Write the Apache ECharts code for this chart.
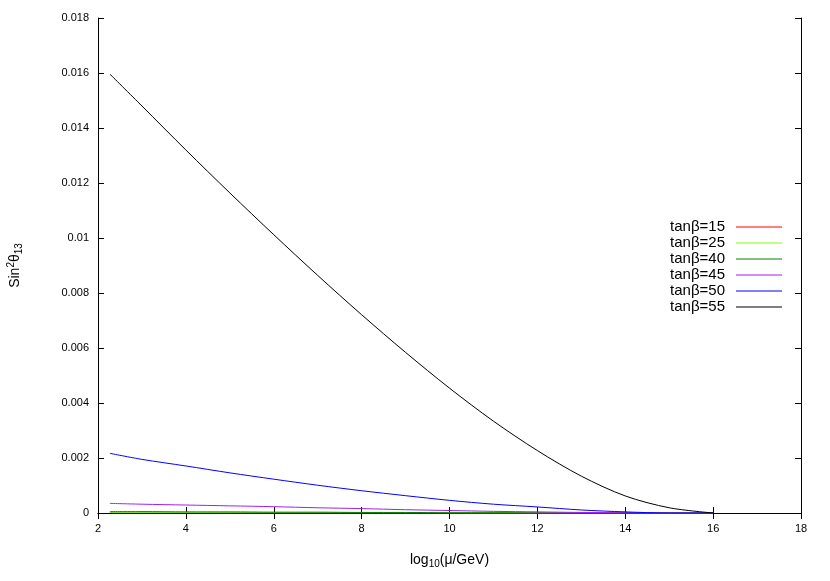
<!DOCTYPE html>
<html>
<head>
<meta charset="utf-8">
<script src="https://cdn.jsdelivr.net/npm/echarts@6/dist/echarts.min.js"></script>
<style>
  html, body { margin: 0; padding: 0; background: #fff; }
  #chart { width: 830px; height: 581px; }
</style>
</head>
<body>
<div id="chart"></div>
<script>
// x positions, log10(mu/GeV)
const xs = [2.27, 3, 4, 5, 6, 7, 8, 9, 10, 11, 12, 13, 14, 15, 16];

// sin^2 theta13 for each tan beta
const tb15 = [0.00001, 0.00001, 0.00001, 0.00001, 0.00001, 0.00001, 0.000005, 0.000005, 0, 0, 0, 0, 0, 0, 0];
const tb25 = [0.00002, 0.00002, 0.00002, 0.00001, 0.00001, 0.00001, 0.00001, 0.000005, 0.000005, 0, 0, 0, 0, 0, 0];
const tb40 = [0.00005, 0.00005, 0.00004, 0.00004, 0.00003, 0.00003, 0.00002, 0.00002, 0.00001, 0.00001, 0.000005, 0, 0, 0, 0];
const tb45 = [0.00035, 0.00032, 0.00029, 0.00026, 0.00023, 0.00019, 0.00016, 0.00012, 0.00009, 0.00006, 0.00004, 0.00002, 0.00001, 0, 0];
const tb50 = [0.00217, 0.00195, 0.00171, 0.00146, 0.00123, 0.00101, 0.00081, 0.00063, 0.00046, 0.00032, 0.00022, 0.00011, 0.00004, 0, 0];
const tb55 = [0.01596, 0.0148, 0.0132, 0.01164, 0.01012, 0.00864, 0.00721, 0.00584, 0.00454, 0.00334, 0.00227, 0.00134, 0.00062, 0.00019, 0];

const names = ['tanβ=15', 'tanβ=25', 'tanβ=40', 'tanβ=45', 'tanβ=50', 'tanβ=55'];
const colors = ['#ff0000', '#80ff00', '#008000', '#a020f0', '#0000ff', '#000000'];
const allData = [tb15, tb25, tb40, tb45, tb50, tb55];

const font = 'Liberation Sans, Arial, sans-serif';

const chart = echarts.init(document.getElementById('chart'));

const series = allData.map((d, i) => ({
  name: names[i],
  type: 'line',
  data: d.map((v, j) => [xs[j], v]),
  showSymbol: false,
  smooth: 0.3,
  lineStyle: { width: 1, color: colors[i] },
  itemStyle: { color: colors[i] }
}));

const tickIn = { show: true, inside: true, length: 6, lineStyle: { color: '#000' } };

chart.setOption({
  animation: false,
  backgroundColor: '#fff',
  color: colors,
  grid: { left: 98, right: 29, top: 18, bottom: 68, outerBoundsMode: 'none', containLabel: false },
  legend: {
    orient: 'vertical',
    right: 43,
    top: 214,
    align: 'right',
    itemWidth: 46,
    itemHeight: 1,
    itemGap: 0,
    icon: 'rect',
    textStyle: { fontSize: 15, fontFamily: font, color: '#000', lineHeight: 16, padding: [0, 6, 0, 0] },
    data: names
  },
  xAxis: [
    {
      type: 'value', min: 2, max: 18, interval: 2, position: 'bottom',
      axisLine: { lineStyle: { color: '#000', width: 1 } },
      axisTick: tickIn,
      splitLine: { show: false },
      axisLabel: { color: '#000', fontSize: 11, fontFamily: font, margin: 10 },
      name: 'log{s|10}(μ/GeV)',
      nameLocation: 'middle',
      nameGap: 38,
      nameTextStyle: {
        color: '#000', fontSize: 14, fontFamily: font,
        rich: { s: { fontSize: 10, padding: [8, 0, 0, 0], fontFamily: font, color: '#000' } }
      }
    },
    {
      type: 'value', min: 2, max: 18, interval: 2, position: 'top',
      axisLine: { lineStyle: { color: '#000', width: 1 } },
      axisTick: tickIn,
      axisLabel: { show: false },
      splitLine: { show: false }
    }
  ],
  yAxis: [
    {
      type: 'value', min: 0, max: 0.018, interval: 0.002, position: 'left',
      axisLine: { show: true, lineStyle: { color: '#000', width: 1 } },
      axisTick: tickIn,
      splitLine: { show: false },
      axisLabel: { color: '#000', fontSize: 11, fontFamily: font, margin: 9 },
      name: 'Sin{p|2}θ{s|13}',
      nameLocation: 'middle',
      nameGap: 74,
      nameTextStyle: {
        color: '#000', fontSize: 14, fontFamily: font,
        rich: {
          p: { fontSize: 10, padding: [0, 0, 7, 0], fontFamily: font, color: '#000' },
          s: { fontSize: 10, padding: [8, 0, 0, 0], fontFamily: font, color: '#000' }
        }
      }
    },
    {
      type: 'value', min: 0, max: 0.018, interval: 0.002, position: 'right',
      axisLine: { show: true, lineStyle: { color: '#000', width: 1 } },
      axisTick: tickIn,
      axisLabel: { show: false },
      splitLine: { show: false }
    }
  ],
  series: series
});
</script>
</body>
</html>
